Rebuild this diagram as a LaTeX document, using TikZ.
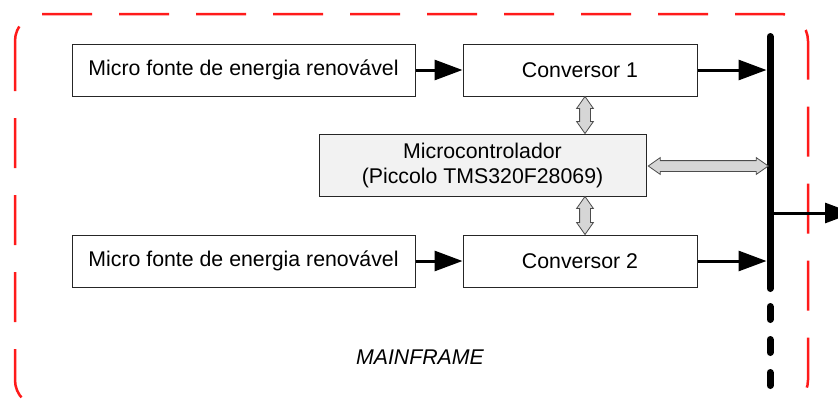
\documentclass[tikz,border=0pt]{standalone}
\usepackage{fontspec}
\setmainfont{Liberation Sans}
\usepackage{xcolor}
\definecolor{framered}{HTML}{FF1A1A}
\definecolor{ctrlgray}{HTML}{F2F2F2}
\definecolor{dargray}{HTML}{D6D6D6}
\usetikzlibrary{arrows.meta,positioning,calc,shapes.arrows}

\begin{document}
\begin{tikzpicture}[x=1pt,y=-1pt,
  every node/.style={font=\fontsize{21.3}{25}\selectfont,align=center},
  bx/.style={draw=black!85,line width=1pt,fill=white,minimum height=52pt,inner sep=0pt},
  gy/.style={bx,fill=ctrlgray,minimum height=62pt},
  ar/.style={-{Triangle[length=28pt,width=20pt]},line width=3pt},
  dar/.style={double arrow,draw=black!70,fill=dargray,line width=0.8pt,inner sep=5pt,
    minimum width=16pt,double arrow head extend=3pt,double arrow tip angle=70},
  bus/.style={line width=7pt,line cap=round},
  frm/.style={draw=framered,line width=2.5pt,dash pattern=on 50pt off 27pt,rounded corners=27pt}
]
\useasboundingbox (0,0) rectangle (838,400);
\clip (0,0) rectangle (838,400);
\draw[frm] (15,14) rectangle (808,407);
% blocks
\node[bx,minimum width=343pt] (src1) at (243.5,70) {Micro fonte de energia renovável};
\node[bx,minimum width=234pt,right=47pt of src1] (conv1) {Conversor 1};
\node[gy,minimum width=327pt,below=37pt of conv1,xshift=-97.5pt] (micro) {Microcontrolador\\(Piccolo TMS320F28069)};
\node[bx,minimum width=234pt,below=38pt of micro,xshift=97.5pt] (conv2) {Conversor 2};
\node[bx,minimum width=343pt,left=47pt of conv2] (src2) {Micro fonte de energia renovável};
\node[font=\fontsize{21.3}{25}\selectfont\itshape] (lbl) at (420,357) {MAINFRAME};
% bus
\coordinate (bustop) at (770,36.5);
\coordinate (busmid) at (770,288.5);
\coordinate (busdash) at (770,306.5);
\coordinate (busend) at (770,392);
\coordinate (out) at (853,213);
\draw[bus] (bustop) -- (busmid);
\draw[bus,dash pattern=on 13pt off 20pt] (busdash) -- (busend);
% power flow
\draw[ar] (src1) -- (conv1);
\draw[ar] (src2) -- (conv2);
\draw[ar,shorten >=3.5pt] (conv1.east) -- (conv1.east -| bustop);
\draw[ar,shorten >=3.5pt] (conv2.east) -- (conv2.east -| bustop);
\draw[ar] (out -| bustop) -- (out);
% control links
\node[dar,shape border rotate=90,minimum height=37pt] (l1) at ($(conv1.south)!0.5!(conv1.south|-micro.north)+(5,0)$) {};
\node[dar,shape border rotate=90,minimum height=38pt] (l2) at ($(conv2.north)!0.5!(conv2.north|-micro.south)+(5,0)$) {};
\node[dar,minimum height=120pt] (l3) at ($(micro.east)!0.5!(micro.east-|bustop)+(0,1)$) {};
\end{tikzpicture}
\end{document}
